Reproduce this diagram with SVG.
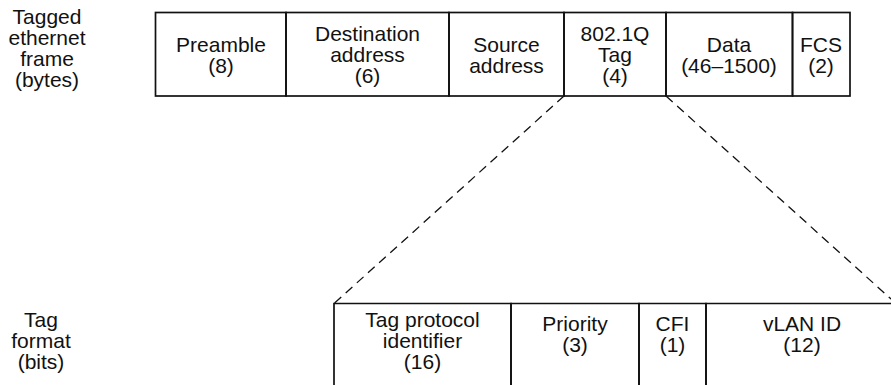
<svg xmlns="http://www.w3.org/2000/svg" width="891" height="385" viewBox="0 0 891 385">
<style>
text{font-family:"Liberation Sans",Arial,sans-serif;font-size:21px;fill:#111;text-anchor:middle}
.box{fill:none;stroke:#111;stroke-width:1.7}
.dash{fill:none;stroke:#111;stroke-width:1.3;stroke-dasharray:9 6}
</style>
<rect width="891" height="385" fill="#fff"/>
<g id="label-frame">
<text x="47" y="24">Tagged</text>
<text x="47" y="45">ethernet</text>
<text x="47" y="66">frame</text>
<text x="47" y="87">(bytes)</text>
</g>
<g id="label-tag">
<text x="41" y="327">Tag</text>
<text x="41" y="348">format</text>
<text x="41" y="369">(bits)</text>
</g>
<g id="preamble">
<rect class="box" x="155.5" y="12.5" width="130.5" height="83.5"/>
<text x="221" y="52">Preamble</text>
<text x="221" y="73">(8)</text>
</g>
<g id="destination">
<rect class="box" x="286" y="12.5" width="163" height="83.5"/>
<text x="367.5" y="41">Destination</text>
<text x="367.5" y="62">address</text>
<text x="367.5" y="83">(6)</text>
</g>
<g id="source">
<rect class="box" x="449" y="12.5" width="115" height="83.5"/>
<text x="506.5" y="52">Source</text>
<text x="506.5" y="73">address</text>
</g>
<g id="tag8021q">
<rect class="box" x="564" y="12.5" width="102" height="83.5"/>
<text x="615" y="41">802.1Q</text>
<text x="615" y="62">Tag</text>
<text x="615" y="83">(4)</text>
</g>
<g id="data">
<rect class="box" x="666" y="12.5" width="126.5" height="83.5"/>
<text x="729" y="52">Data</text>
<text x="729" y="73">(46–1500)</text>
</g>
<g id="fcs">
<rect class="box" x="792.5" y="12.5" width="57.5" height="83.5"/>
<text x="821" y="52">FCS</text>
<text x="821" y="73">(2)</text>
</g>
<g id="tpid">
<path class="box" d="M334,390 V303.5 H511 V390"/>
<text x="422.5" y="327">Tag protocol</text>
<text x="422.5" y="348">identifier</text>
<text x="422.5" y="369">(16)</text>
</g>
<g id="priority">
<path class="box" d="M511,390 V303.5 H639 V390"/>
<text x="575" y="331">Priority</text>
<text x="575" y="352">(3)</text>
</g>
<g id="cfi">
<path class="box" d="M639,390 V303.5 H706 V390"/>
<text x="672.5" y="331">CFI</text>
<text x="672.5" y="352">(1)</text>
</g>
<g id="vlanid">
<path class="box" d="M706,390 V303.5 H900"/>
<text x="802" y="331">vLAN ID</text>
<text x="802" y="352">(12)</text>
</g>
<g id="connectors">
<line class="dash" x1="564" y1="96" x2="334" y2="303.5"/>
<line class="dash" x1="666" y1="96" x2="896" y2="303.5"/>
</g>
</svg>
